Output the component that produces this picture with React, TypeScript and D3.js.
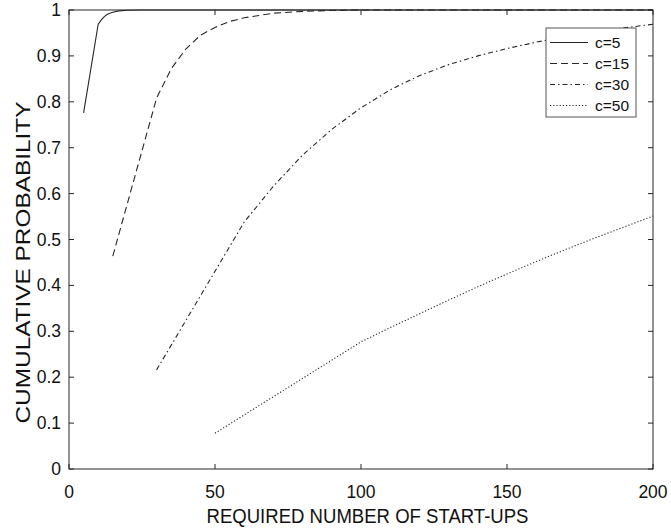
import React from 'react';
import * as d3 from 'd3';

// series
const c5X = [5, 10, 11, 12, 13, 14, 15, 17, 20, 25, 200];
const c5Y = [0.776, 0.969, 0.978, 0.985, 0.99, 0.993, 0.995, 0.998, 0.9995, 1, 1];
const c15X = [15, 30, 35, 40, 45, 50, 55, 60, 70, 80, 90, 100, 200];
const c15Y = [0.464, 0.808, 0.872, 0.915, 0.945, 0.962, 0.975, 0.983, 0.993, 0.997, 0.999, 1, 1];
const c30X = [30, 60, 70, 80, 90, 100, 110, 120, 130, 140, 150, 160, 170, 180, 190, 200];
const c30Y = [0.216, 0.538, 0.616, 0.684, 0.74, 0.787, 0.826, 0.857, 0.881, 0.9, 0.916, 0.93, 0.942, 0.952, 0.961, 0.969];
const c50X = [50, 100, 110, 120, 130, 140, 150, 160, 170, 180, 190, 200];
const c50Y = [0.078, 0.277, 0.308, 0.338, 0.368, 0.397, 0.425, 0.452, 0.478, 0.503, 0.527, 0.551];

const seriesNames = ['c=5', 'c=15', 'c=30', 'c=50'];
const xTicks = [0, 50, 100, 150, 200];
const yTicks = [0, 0.1, 0.2, 0.3, 0.4, 0.5, 0.6, 0.7, 0.8, 0.9, 1];

const W = 671;
const H = 529;
const left = 69, right = 653, top = 10, bottom = 469;
const ink = '#262626';
const font = 'Arial, "Liberation Sans", Helvetica, sans-serif';

const dashes = ['', '7,4', '5,3,1.5,3', '1.2,2'];

export default function App() {
  const x = d3.scaleLinear().domain([0, 200]).range([left, right]);
  const y = d3.scaleLinear().domain([0, 1]).range([bottom, top]);

  const line = d3.line<[number, number]>()
    .x(d => x(d[0]))
    .y(d => y(d[1]));

  const series = [
    c5X.map((v, i) => [v, c5Y[i]] as [number, number]),
    c15X.map((v, i) => [v, c15Y[i]] as [number, number]),
    c30X.map((v, i) => [v, c30Y[i]] as [number, number]),
    c50X.map((v, i) => [v, c50Y[i]] as [number, number]),
  ];

  const tl = 5;
  const legX = 546, legY = 28, legW = 90, legH = 89;
  const rowY = [42.5, 63.5, 84.5, 105.5];

  return (
    <svg width={W} height={H} style={{ position: 'absolute', left: 0, top: 0, background: '#fff' }}
      fontFamily={font}>
      <rect x={0} y={0} width={W} height={H} fill="#fff" />

      {series.map((s, i) => (
        <path key={i} d={line(s) || ''} fill="none" stroke={ink} strokeWidth={1.1}
          strokeDasharray={dashes[i] || undefined} />
      ))}

      {/* axes box */}
      <rect x={left} y={top} width={right - left} height={bottom - top} fill="none" stroke={ink} strokeWidth={1} />

      {xTicks.map(t => (
        <g key={'x' + t}>
          <line x1={x(t)} x2={x(t)} y1={bottom} y2={bottom - tl} stroke={ink} />
          <line x1={x(t)} x2={x(t)} y1={top} y2={top + tl} stroke={ink} />
          <text x={x(t)} y={498} textAnchor="middle" fontSize={17.5} fill="#111">{t}</text>
        </g>
      ))}

      {yTicks.map(t => (
        <g key={'y' + t}>
          <line x1={left} x2={left + tl} y1={y(t)} y2={y(t)} stroke={ink} />
          <line x1={right} x2={right - tl} y1={y(t)} y2={y(t)} stroke={ink} />
          <text x={61} y={y(t) + 6} textAnchor="end" fontSize={17.5} fill="#111">{d3.format('~g')(t)}</text>
        </g>
      ))}

      <text x={367.5} y={523} textAnchor="middle" fontSize={19.5} fill="#111"
        textLength={322} lengthAdjust="spacingAndGlyphs">REQUIRED NUMBER OF START-UPS</text>
      <text transform={`translate(30,262.5) rotate(-90)`} textAnchor="middle" fontSize={20} fill="#111"
        textLength={322} lengthAdjust="spacingAndGlyphs">CUMULATIVE PROBABILITY</text>

      {/* legend */}
      <rect x={legX} y={legY} width={legW} height={legH} fill="#fff" stroke="#555" strokeWidth={1} />
      {seriesNames.map((n, i) => (
        <g key={n}>
          <line x1={550} x2={588} y1={rowY[i]} y2={rowY[i]} stroke={ink} strokeWidth={1}
            strokeDasharray={dashes[i] || undefined} />
          <text x={595} y={rowY[i] + 5.5} fontSize={15.5} fill="#111">{n}</text>
        </g>
      ))}
    </svg>
  );
}
